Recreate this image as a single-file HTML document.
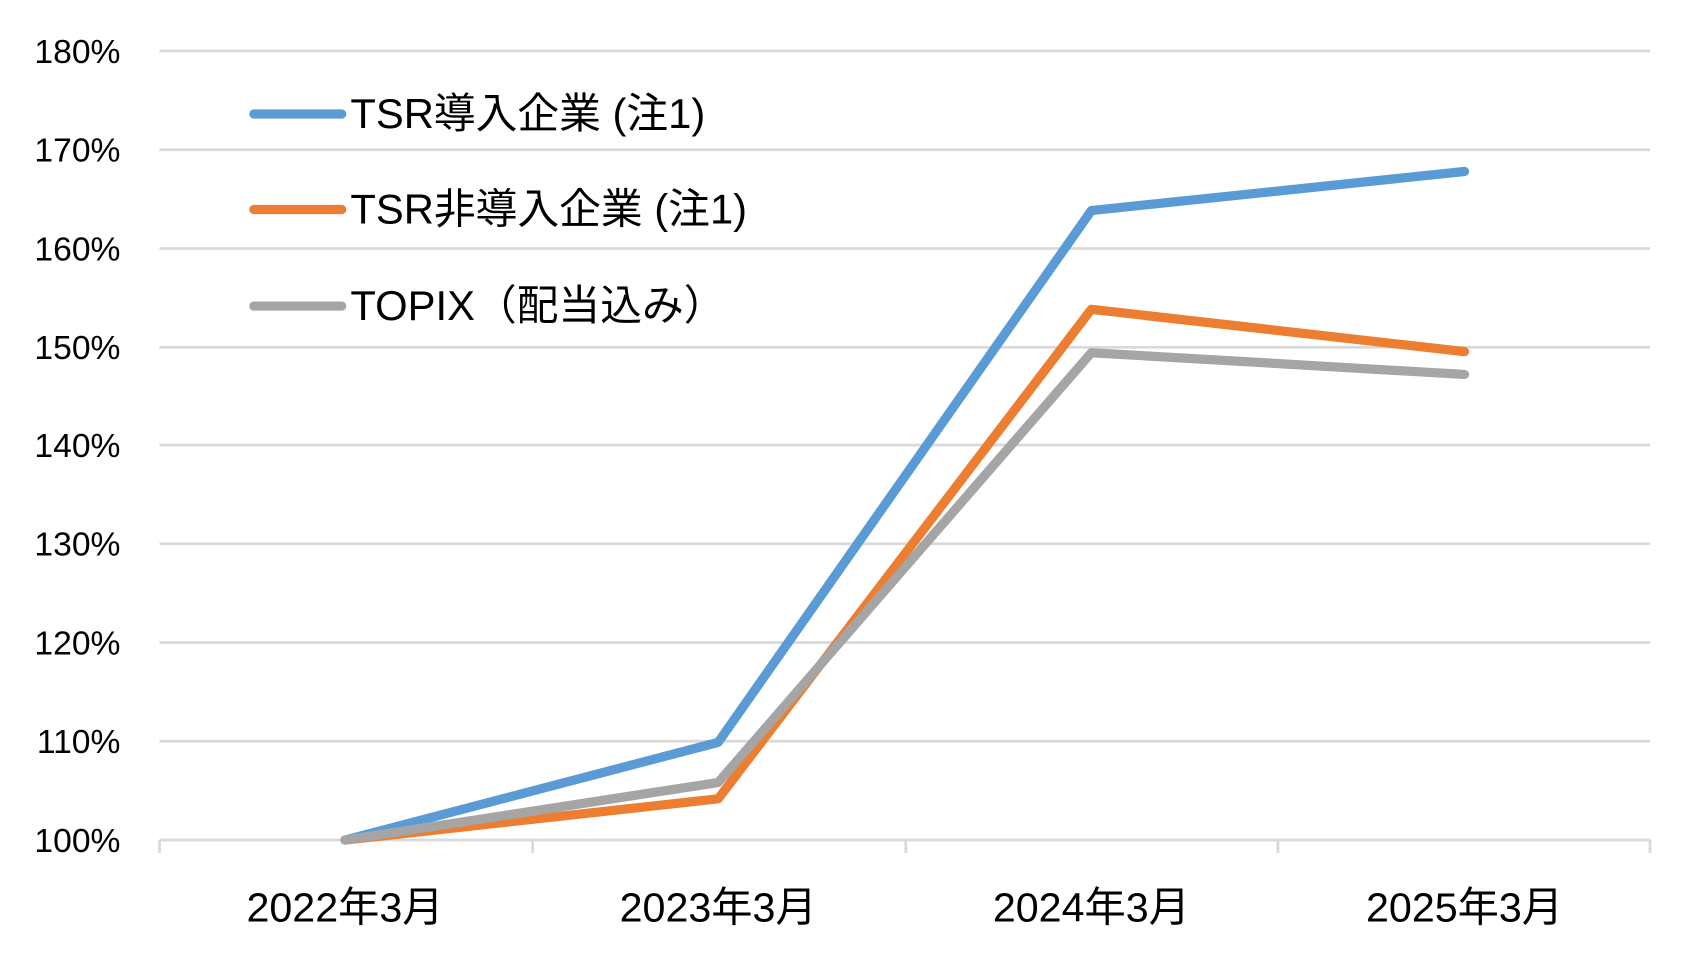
<!DOCTYPE html>
<html><head><meta charset="utf-8"><style>
html,body{margin:0;padding:0;background:#fff;}
svg{display:block;}
text{font-family:"Liberation Sans","Noto Sans CJK JP",sans-serif;fill:#000;}
</style></head><body>
<svg width="1701" height="954" viewBox="0 0 1568 879" preserveAspectRatio="none">
<g stroke="#d9d9d9" stroke-width="2.5">
<line x1="147" x2="1521" y1="47" y2="47"/>
<line x1="147" x2="1521" y1="138" y2="138"/>
<line x1="147" x2="1521" y1="229" y2="229"/>
<line x1="147" x2="1521" y1="320" y2="320"/>
<line x1="147" x2="1521" y1="410" y2="410"/>
<line x1="147" x2="1521" y1="501" y2="501"/>
<line x1="147" x2="1521" y1="592" y2="592"/>
<line x1="147" x2="1521" y1="683" y2="683"/>
<line x1="147" x2="1521" y1="774" y2="774"/>
<line x1="147" x2="147" y1="774" y2="786"/>
<line x1="491" x2="491" y1="774" y2="786"/>
<line x1="835" x2="835" y1="774" y2="786"/>
<line x1="1178" x2="1178" y1="774" y2="786"/>
<line x1="1521" x2="1521" y1="774" y2="786"/>
</g>
<g font-size="31" text-anchor="end">
<text x="111" y="58">180%</text><text x="111" y="149">170%</text><text x="111" y="240">160%</text>
<text x="111" y="331">150%</text><text x="111" y="421">140%</text><text x="111" y="512">130%</text>
<text x="111" y="603">120%</text><text x="111" y="694">110%</text><text x="111" y="785">100%</text>
</g>
<g font-size="38" text-anchor="middle">
<text x="318" y="849">2022年3月</text><text x="662" y="849">2023年3月</text>
<text x="1006" y="849">2024年3月</text><text x="1350" y="849">2025年3月</text>
</g>
<g fill="none" stroke-width="8.5" stroke-linecap="round" stroke-linejoin="round">
<polyline stroke="#5b9bd5" points="318,774 662,684 1006,194 1350,158"/>
<polyline stroke="#ed7d31" points="318,774 662,736 1006,285 1350,324"/>
<polyline stroke="#a5a5a5" points="318,774 662,721 1006,325 1350,345"/>
</g>
<g stroke-width="8.5" stroke-linecap="round">
<line x1="234" x2="315" y1="105" y2="105" stroke="#5b9bd5"/>
<line x1="234" x2="315" y1="193" y2="193" stroke="#ed7d31"/>
<line x1="234" x2="315" y1="282" y2="282" stroke="#a5a5a5"/>
</g>
<g font-size="38.5">
<text x="323" y="118">TSR導入企業 (注1)</text>
<text x="323" y="206">TSR非導入企業 (注1)</text>
<text x="323" y="295">TOPIX（配当込み）</text>
</g>
</svg>
</body></html>
